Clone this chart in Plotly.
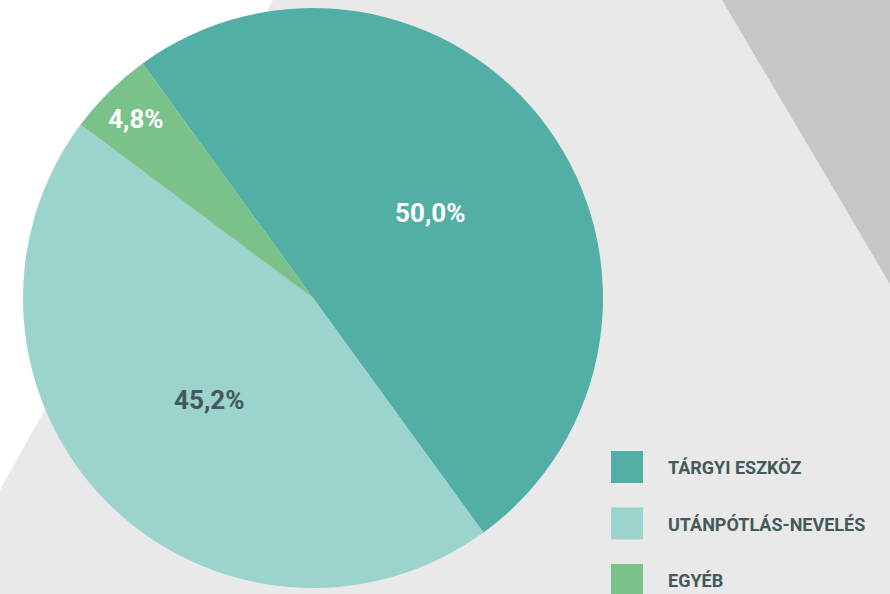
import plotly.graph_objects as go

labels = ["TÁRGYI ESZKÖZ", "UTÁNPÓTLÁS-NEVELÉS", "EGYÉB"]
values = [50.0, 45.2, 4.8]
colors = ["#52afa5", "#9bd3cd", "#7bc18a"]
text_colors = ["#ffffff", "#43595a", "#ffffff"]

W, H = 890, 594
FONT = "Roboto, Liberation Sans, sans-serif"

cx, cy, r = 313, 298, 290

fig = go.Figure()
fig.add_trace(go.Pie(
    labels=labels, values=values, sort=False, direction="clockwise",
    rotation=-36,
    marker=dict(colors=colors, line=dict(width=0)),
    texttemplate="<b>%{percent:.1%}</b>",
    textposition="inside",
    insidetextorientation="horizontal",
    textfont=dict(family=FONT, size=26, color=text_colors),
    showlegend=False, hoverinfo="label+percent",
    domain=dict(x=[(cx - r) / W, (cx + r) / W], y=[1 - (cy + r) / H, 1 - (cy - r) / H]),
))

def px(x):
    return x / W

def py(y):
    return 1 - y / H

shapes = [
    dict(type="path", xref="paper", yref="paper", layer="below", line=dict(width=0),
         fillcolor="#e9e9e9",
         path=f"M {px(273)} {py(0)} L {px(890)} {py(0)} L {px(890)} {py(594)} L {px(0)} {py(594)} L {px(0)} {py(490)} Z"),
    dict(type="path", xref="paper", yref="paper", layer="below", line=dict(width=0),
         fillcolor="#c6c6c8",
         path=f"M {px(722)} {py(0)} L {px(890)} {py(0)} L {px(890)} {py(284)} Z"),
]
annotations = []
y0 = 451
step = 56.5
for i, (lab, col) in enumerate(zip(labels, colors)):
    top = y0 + i * step
    shapes.append(dict(type="rect", xref="paper", yref="paper", line=dict(width=0),
                       fillcolor=col, x0=px(611), x1=px(643), y0=py(top + 32), y1=py(top)))
    annotations.append(dict(xref="paper", yref="paper", x=px(666), y=py(top + 16.5),
                            xanchor="left", yanchor="middle", showarrow=False,
                            text=f"<b>{lab}</b>",
                            font=dict(family=FONT, size=18, color="#43595a")))

fig.update_layout(
    width=W, height=H, margin=dict(l=0, r=0, t=0, b=0),
    paper_bgcolor="#ffffff", plot_bgcolor="#ffffff",
    separators=",.",
    shapes=shapes, annotations=annotations,
)

fig.write_html("out.html", config={"displayModeBar": False},
               post_script="document.body.style.margin='0';document.body.style.padding='0';")
